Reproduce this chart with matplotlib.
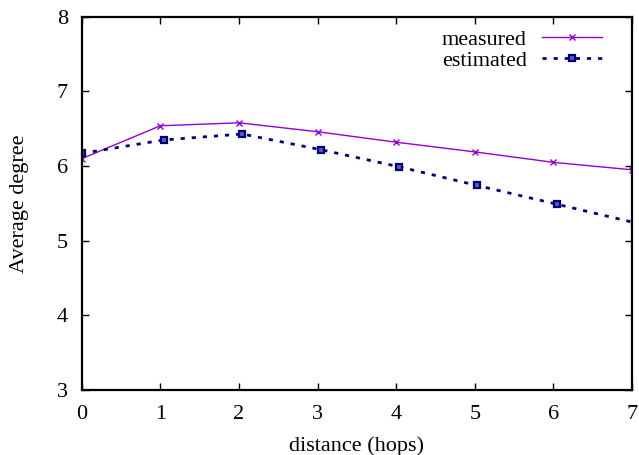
import matplotlib
matplotlib.use("Agg")
from matplotlib import pyplot as plt

# hop distance vs average node degree
hops = [0, 1, 2, 3, 4, 5, 6, 7]
measured = [6.10, 6.54, 6.58, 6.46, 6.32, 6.19, 6.05, 5.95]
est_hops = [0, 1.04, 2.04, 3.04, 4.04, 5.03, 6.04, 7.04]
estimated = [6.17, 6.35, 6.43, 6.22, 5.99, 5.74, 5.49, 5.24]

plt.rcParams['font.family'] = ['Liberation Serif', 'DejaVu Serif']

fig = plt.figure(figsize=(6.39, 4.55), dpi=100)
ax = fig.add_axes([0.128, 0.143, 0.861, 0.820])

ax.plot(hops, measured, color='#9400d3', lw=1.0, marker='x', ms=5,
        mew=1.0, label='measured')
ax.plot(est_hops, estimated, color='#00007f', lw=2.0, dashes=(1.5, 2.5),
        marker='s', ms=4.5, mew=1.6, mfc='#6060b0', mec='#00007f',
        label='estimated')

ax.set_xlim(0, 7)
ax.set_ylim(3, 8)
ax.set_xticks(range(0, 8))
ax.set_yticks(range(3, 9))
ax.tick_params(direction='in', top=True, right=True, labelsize=16,
               length=5, width=1)
ax.tick_params(axis='x', pad=11)
ax.tick_params(axis='y', pad=10)
for s in ax.spines.values():
    s.set_linewidth(1.6)

ax.set_xlabel('distance (hops)', fontsize=16, labelpad=9)
ax.set_ylabel('Average degree', fontsize=16, labelpad=20)

ax.legend(loc='upper right', bbox_to_anchor=(0.962, 0.99), frameon=False,
          markerfirst=False, fontsize=16, handlelength=2.7,
          borderaxespad=0.1, labelspacing=0.0, handletextpad=0.7,
          borderpad=0.3)

fig.savefig('out.png', dpi=100)
